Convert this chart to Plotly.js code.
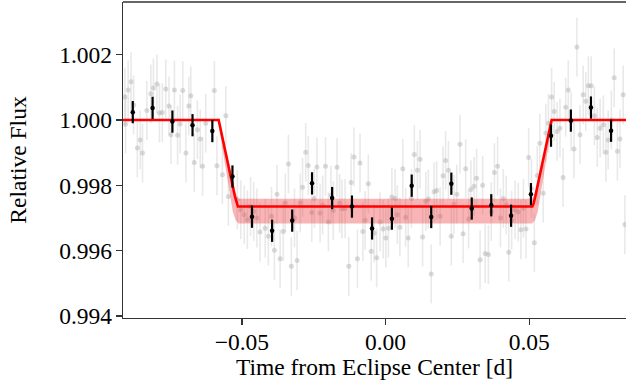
<!DOCTYPE html>
<html>
<head>
<meta charset="utf-8">
<script src="https://cdn.plot.ly/plotly-3.0.1.min.js"></script>
<style>html,body{margin:0;padding:0;background:#fff;}#chart{width:626px;height:384px;}</style>
</head>
<body>
<div id="chart"></div>
<script>
// Unbinned observations (gray)
const rawTime = [-0.09075,-0.0905,-0.0896,-0.0886,-0.0877,-0.0864,-0.0854,-0.0846,-0.0831,-0.0817,-0.0808,-0.0796,-0.0787,-0.0777,-0.0765,-0.0754,-0.0747,-0.0735,-0.0724,-0.0715,-0.0706,-0.0695,-0.0685,-0.0678,-0.0666,-0.0655,-0.0645,-0.0637,-0.0626,-0.0596,-0.0587,-0.0568,-0.0556,-0.0547,-0.0516,-0.0504,-0.0492,-0.0481,-0.0470,-0.0459,-0.0448,-0.0437,-0.0419,-0.0408,-0.0397,-0.0387,-0.0378,-0.0367,-0.0356,-0.0349,-0.0338,-0.0328,-0.0317,-0.0308,-0.0297,-0.0289,-0.0278,-0.0269,-0.0257,-0.0248,-0.0239,-0.0228,-0.0219,-0.0209,-0.0199,-0.0190,-0.0182,-0.0169,-0.0160,-0.0152,-0.0141,-0.0128,-0.0120,-0.0110,-0.0098,-0.0089,-0.0079,-0.0071,-0.0060,-0.0050,-0.0040,-0.0031,-0.0019,-0.0008,0.0001,0.0010,0.0022,0.0033,0.0041,0.0050,0.0060,0.0070,0.0079,0.0090,0.0100,0.0111,0.0120,0.0129,0.0140,0.0149,0.0159,0.0169,0.0178,0.0190,0.0200,0.0209,0.0219,0.0229,0.0238,0.0248,0.0259,0.0270,0.0279,0.0289,0.0297,0.0308,0.0317,0.0329,0.0338,0.0347,0.0358,0.0368,0.0379,0.0390,0.0400,0.0410,0.0420,0.0429,0.0439,0.0451,0.0462,0.0471,0.0480,0.0489,0.0498,0.0508,0.0518,0.0528,0.0537,0.0549,0.0558,0.0567,0.0578,0.0587,0.0597,0.0607,0.0618,0.0627,0.0636,0.0646,0.0656,0.0666,0.0677,0.0688,0.0697,0.0706,0.0716,0.0727,0.0737,0.0747,0.0758,0.0767,0.0775,0.0786,0.0796,0.0807,0.0816,0.0827,0.0833];
const rawFlux = [1.00070,0.99988,1.00092,1.00117,1.00046,0.99914,0.99939,0.99899,1.00029,1.00080,1.00098,1.00110,1.00021,1.00023,1.00095,1.00043,0.99955,1.00092,0.99953,0.99988,1.00090,0.99899,1.00043,1.00074,0.99870,0.99970,0.99942,0.99858,0.99990,1.00090,0.99860,0.99832,1.00013,0.99766,0.99756,0.99725,0.99710,0.99695,0.99735,0.99720,0.99700,0.99657,0.99669,0.99644,0.99705,0.99601,0.99773,0.99575,0.99659,0.99746,0.99865,0.99552,0.99700,0.99570,0.99746,0.99794,0.99901,0.99861,0.99717,0.99760,0.99856,0.99715,0.99740,0.99858,0.99688,0.99770,0.99723,0.99855,0.99745,0.99728,0.99729,0.99552,0.99809,0.99887,0.99575,0.99868,0.99659,0.99693,0.99805,0.99598,0.99654,0.99578,0.99688,0.99666,0.99639,0.99669,0.99764,0.99760,0.99710,0.99672,0.99851,0.99702,0.99639,0.99760,0.99894,0.99846,0.99880,0.99642,0.99751,0.99758,0.99529,0.99780,0.99784,0.99705,0.99829,0.99876,0.99846,0.99644,0.99741,0.99773,0.99926,0.99652,0.99851,0.99697,0.99787,0.99797,0.99822,0.99572,0.99800,0.99591,0.99588,0.99720,0.99839,0.99858,0.99700,0.99760,0.99740,0.99595,0.99693,0.99725,0.99718,0.99664,0.99730,0.99666,0.99885,0.99790,0.99624,0.99830,0.99929,0.99776,0.99960,0.99990,1.00070,1.00026,0.99965,0.99975,0.99824,1.00039,1.00092,0.99995,0.99911,1.00223,0.99955,1.00077,1.00057,1.00105,1.00105,1.00013,0.99946,0.99975,0.99985,0.99901,0.99939,1.00000,1.00129,0.99904,0.99942,1.00077,0.99680];
const rawErr = 0.0009;

// Binned observations (black)
const binTime = [-0.0880,-0.0811,-0.0742,-0.0672,-0.0603,-0.0533,-0.0465,-0.0395,-0.0325,-0.0256,-0.0186,-0.0117,-0.0047,0.0022,0.0091,0.0159,0.0229,0.0300,0.0368,0.0437,0.0506,0.0576,0.0645,0.0715,0.0785];
const binFlux = [1.00024,1.00037,0.99995,0.99984,0.99966,0.99827,0.99704,0.99661,0.99692,0.99806,0.99761,0.99735,0.99668,0.99698,0.99799,0.99703,0.99805,0.99729,0.99739,0.99707,0.99773,0.99952,0.99998,1.00038,0.99967];
const binErr = 0.00034;

// Best-fit eclipse model
const modelTime = [-0.0914,-0.0581,-0.0524,-0.0518,-0.0514,0.0511,0.0515,0.0521,0.0578,0.0837];
const modelFlux = [1,1,0.99765,0.99743,0.99735,0.99735,0.99743,0.99765,1,1];

// Model uncertainty envelope
const bandUpperTime = [-0.0914,-0.0578,-0.0522,-0.0512,0.0510,0.0520,0.0576,0.0837];
const bandUpperFlux = [1,1,0.99775,0.99759,0.99759,0.99775,1,1];
const bandLowerTime = [-0.0914,-0.0584,-0.0532,-0.0522,-0.0512,0.0510,0.0520,0.0530,0.0582,0.0837];
const bandLowerFlux = [1,1,0.99720,0.99693,0.99683,0.99683,0.99693,0.99720,1,1];

const xTicks = [-0.05, 0.00, 0.05];
const yTicks = [0.994, 0.996, 0.998, 1.000, 1.002];

const traces = [
  {x: rawTime, y: rawFlux, type: 'scatter', mode: 'markers',
   marker: {size: 5, color: 'rgba(170,170,170,0.42)'},
   error_y: {type: 'constant', value: rawErr, color: 'rgba(170,170,170,0.26)', thickness: 1.6, width: 0},
   hoverinfo: 'skip'},
  {x: bandLowerTime, y: bandLowerFlux, type: 'scatter', mode: 'lines',
   line: {width: 0, color: 'rgba(0,0,0,0)'}, hoverinfo: 'skip'},
  {x: bandUpperTime, y: bandUpperFlux, type: 'scatter', mode: 'lines',
   line: {width: 0, color: 'rgba(0,0,0,0)'}, fill: 'tonexty', fillcolor: 'rgba(240,60,60,0.38)', hoverinfo: 'skip'},
  {x: modelTime, y: modelFlux, type: 'scatter', mode: 'lines',
   line: {color: '#ff0000', width: 2.6}, hoverinfo: 'skip'},
  {x: binTime, y: binFlux, type: 'scatter', mode: 'markers',
   marker: {size: 4.5, color: '#000'},
   error_y: {type: 'constant', value: binErr, color: '#000', thickness: 2.2, width: 0},
   hoverinfo: 'skip'}
];

const axisFont = {family: '"Liberation Serif", "Times New Roman", serif', size: 23.5, color: '#000'};

const layout = {
  width: 626, height: 384,
  margin: {l: 123, r: 0, t: 2, b: 66, pad: 0},
  paper_bgcolor: '#fff', plot_bgcolor: '#fff',
  showlegend: false,
  font: axisFont,
  xaxis: {
    range: [-0.0914, 0.0837], tickvals: xTicks, tickformat: '.2f',
    ticks: 'outside', ticklen: 6, tickwidth: 1.2, tickcolor: '#333',
    ticklabelstandoff: -4,
    showline: true, linecolor: '#333', linewidth: 1.3, showgrid: false, zeroline: false,
    tickfont: axisFont,
    title: {text: 'Time from Eclipse Center [d]', font: axisFont, standoff: 4}
  },
  yaxis: {
    range: [0.99394, 1.00361], tickvals: yTicks, tickformat: '.3f',
    ticks: 'outside', ticklen: 6, tickwidth: 1.2, tickcolor: '#333',
    ticklabelstandoff: -1,
    showline: true, linecolor: '#333', linewidth: 1.3, showgrid: false, zeroline: false,
    tickfont: axisFont,
    title: {text: 'Relative Flux', font: axisFont, standoff: 26}
  },
  shapes: [
    {type: 'line', xref: 'paper', yref: 'paper', x0: 0, x1: 1, y0: 1, y1: 1,
     line: {color: '#333', width: 1.3}}
  ]
};

Plotly.newPlot('chart', traces, layout, {staticPlot: true, displayModeBar: false});
</script>
</body>
</html>
